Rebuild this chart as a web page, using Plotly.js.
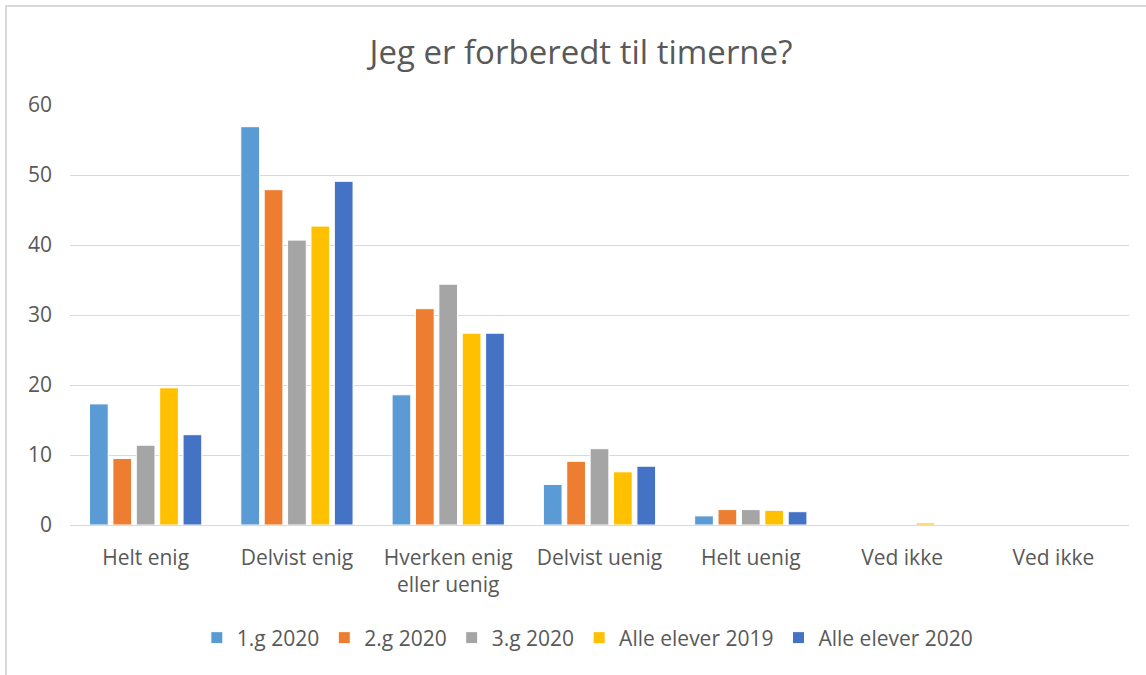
<!DOCTYPE html>
<html>
<head>
<meta charset="utf-8">
<script src="https://cdn.plot.ly/plotly-3.0.1.min.js"></script>
<style>
  html, body { margin: 0; padding: 0; background: #fff; }
  #frame { position: absolute; left: 5px; top: 5px; width: 1160px; height: 690px;
           border-left: 2px solid #d9d9d9; border-top: 2px solid #d9d9d9; box-sizing: border-box; }
  #chart { position: absolute; left: 0; top: 0; width: 1146px; height: 675px; }
</style>
</head>
<body>
<div id="frame"></div>
<div id="chart"></div>
<script>
const categories = ["Helt enig", "Delvist enig", "Hverken enig<br>eller uenig", "Delvist uenig", "Helt uenig", "Ved ikke", "Ved ikke"];
const seriesNames = ["1.g 2020", "2.g 2020", "3.g 2020", "Alle elever 2019", "Alle elever 2020"];
const g1_2020 = [17.3, 56.9, 18.6, 5.8, 1.3, 0, 0];
const g2_2020 = [9.5, 47.9, 30.9, 9.1, 2.2, 0, 0];
const g3_2020 = [11.4, 40.7, 34.4, 10.9, 2.2, 0, 0];
const alle_2019 = [19.6, 42.7, 27.4, 7.6, 2.1, 0.3, 0];
const alle_2020 = [12.9, 49.1, 27.4, 8.4, 1.9, 0, 0];
const colors = ["#5B9BD5", "#ED7D31", "#A5A5A5", "#FFC000", "#4472C4"];

const allSeries = [g1_2020, g2_2020, g3_2020, alle_2019, alle_2020];
const xIdx = categories.map((c, i) => i);

const traces = allSeries.map((vals, k) => ({
  type: "bar",
  name: seriesNames[k],
  x: xIdx,
  y: vals,
  marker: { color: colors[k], line: { color: "#ffffff", width: 1 } },
  hoverinfo: "name+y"
}));

const font = "Open Sans, DejaVu Sans, sans-serif";

const layout = {
  width: 1146,
  height: 675,
  paper_bgcolor: "rgba(0,0,0,0)",
  plot_bgcolor: "rgba(0,0,0,0)",
  margin: { l: 70, r: 17, t: 105, b: 150, autoexpand: false },
  barmode: "group",
  bargap: 0.227,
  bargroupgap: 0.2,
  title: {
    text: "Jeg er forberedt til timerne?",
    font: { family: font, size: 33, color: "#595959" },
    x: 0.4825, xanchor: "center", xref: "paper",
    y: 49, yref: "container", yanchor: "middle"
  },
  xaxis: {
    tickmode: "array",
    tickvals: xIdx,
    ticktext: categories,
    range: [-0.5, categories.length - 0.5],
    showgrid: false,
    zeroline: false,
    showline: false,
    ticks: "",
    ticklabelstandoff: 18,
    automargin: false,
    tickfont: { family: font, size: 21, color: "#595959" }
  },
  yaxis: {
    range: [0, 60],
    dtick: 10,
    showgrid: true,
    gridcolor: "#d9d9d9",
    gridwidth: 1.3,
    zeroline: true,
    zerolinecolor: "#d9d9d9",
    zerolinewidth: 1.3,
    showline: false,
    ticks: "",
    ticklabelstandoff: 17,
    automargin: false,
    tickfont: { family: font, size: 21, color: "#595959" }
  },
  legend: {
    orientation: "h",
    x: 0.489, xanchor: "center",
    y: -0.269, yanchor: "middle",
    font: { family: font, size: 21, color: "#595959" },
    itemwidth: 30,
    traceorder: "normal"
  },
  showlegend: true
};

Plotly.newPlot("chart", traces, layout, { displayModeBar: false, responsive: false });
</script>
</body>
</html>
